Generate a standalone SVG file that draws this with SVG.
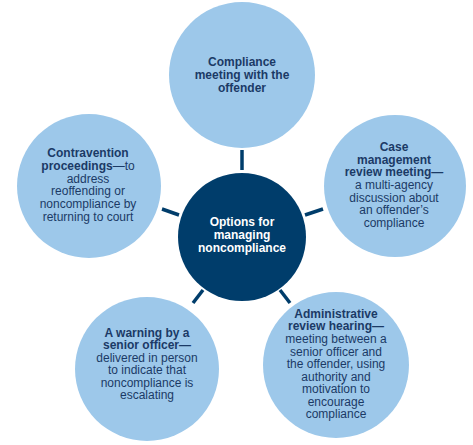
<svg xmlns="http://www.w3.org/2000/svg" width="473" height="445" viewBox="0 0 473 445">
<style>
.outer{fill:#9dc8ea}
.hub{fill:#003d6b}
.conn line{stroke:#003d6b;stroke-width:3.5}
text{font-family:"Liberation Sans",Arial,sans-serif;font-size:12px;text-anchor:middle;fill:#1b3a66}
.b{font-weight:bold}
.w{fill:#ffffff;font-weight:bold}
</style>
<rect width="473" height="445" fill="#ffffff"/>
<g id="connectors" class="conn">
<line x1="242" y1="150" x2="242" y2="170"/>
<line x1="162" y1="209" x2="179" y2="215"/>
<line x1="305" y1="215" x2="323" y2="209"/>
<line x1="193" y1="303" x2="203" y2="290"/>
<line x1="280" y1="290" x2="290" y2="303"/>
</g>
<g id="top">
<circle class="outer" cx="242" cy="75" r="73"/>
<text class="b" x="242" y="66">Compliance</text>
<text class="b" x="242" y="79">meeting with the</text>
<text class="b" x="242" y="92">offender</text>
</g>
<g id="left">
<circle class="outer" cx="89" cy="186" r="72"/>
<text class="b" x="88" y="157">Contravention</text>
<text x="88" y="170"><tspan class="b">proceedings</tspan>—to</text>
<text x="88" y="183">address</text>
<text x="88" y="195">reoffending or</text>
<text x="88" y="208">noncompliance by</text>
<text x="88" y="221">returning to court</text>
</g>
<g id="right">
<circle class="outer" cx="395" cy="186" r="71"/>
<text class="b" x="394" y="151">Case</text>
<text class="b" x="394" y="164">management</text>
<text class="b" x="394" y="176">review meeting—</text>
<text x="394" y="189">a multi-agency</text>
<text x="394" y="202">discussion about</text>
<text x="394" y="214">an offender’s</text>
<text x="394" y="227">compliance</text>
</g>
<g id="bottom-left">
<circle class="outer" cx="147" cy="369" r="72"/>
<text class="b" x="147" y="337">A warning by a</text>
<text class="b" x="147" y="349">senior officer—</text>
<text x="147" y="362">delivered in person</text>
<text x="147" y="374">to indicate that</text>
<text x="147" y="387">noncompliance is</text>
<text x="147" y="399">escalating</text>
</g>
<g id="bottom-right">
<circle class="outer" cx="336" cy="365" r="73"/>
<text class="b" x="336" y="318">Administrative</text>
<text class="b" x="336" y="330">review hearing—</text>
<text x="336" y="343">meeting between a</text>
<text x="336" y="356">senior officer and</text>
<text x="336" y="368">the offender, using</text>
<text x="336" y="381">authority and</text>
<text x="336" y="393">motivation to</text>
<text x="336" y="406">encourage</text>
<text x="336" y="418">compliance</text>
</g>
<g id="hub">
<circle class="hub" cx="242" cy="237" r="64"/>
<text class="w" x="242" y="226">Options for</text>
<text class="w" x="242" y="239">managing</text>
<text class="w" x="242" y="252">noncompliance</text>
</g>
</svg>
